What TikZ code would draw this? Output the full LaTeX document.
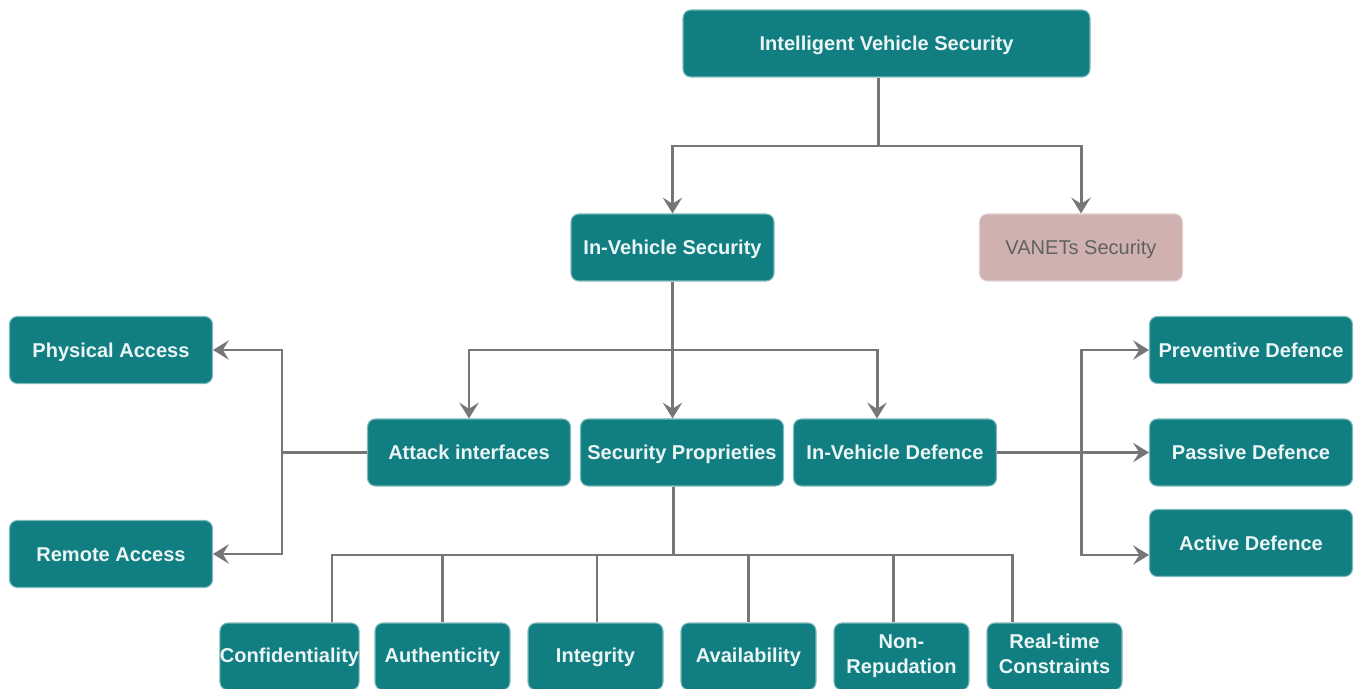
\documentclass[tikz,border=0pt]{standalone}
\usepackage{fontspec}
\setmainfont{Liberation Sans}
\usepackage{tikz}
\usetikzlibrary{arrows.meta}
\definecolor{tealbox}{HTML}{117E82}
\definecolor{tealedge}{HTML}{7DBABC}
\definecolor{pinkbox}{HTML}{CFB1B0}
\definecolor{pinkedge}{HTML}{E4D0CF}
\definecolor{linegray}{HTML}{767676}
\tikzstyle{arrow} = [line width=1.7pt, linegray, -{Stealth[length=9pt, width=11pt, inset=3.5pt]}]

\begin{document}
\begin{tikzpicture}[
    box/.style={rectangle, rounded corners=4.5pt, draw=tealedge, line width=0.6pt, fill=tealbox,
        text=white!92!tealbox, font=\fontsize{11.4}{14.2}\selectfont\bfseries,
        minimum width=4.06cm, minimum height=1.34cm, inner sep=0pt, align=center,
        text height=0.8em, text depth=0pt},
    widebox/.style={box, minimum width=8.14cm},
    smallbox/.style={box, minimum width=2.7cm, text depth=0.1em},
    greybox/.style={box, draw=pinkedge, fill=pinkbox, text=black!62,
        font=\fontsize{11.4}{14.2}\selectfont},
    line/.style={line width=1.7pt, linegray},
]
\useasboundingbox (0,0) rectangle (27.24,13.76);

% Top levels
\node[widebox] (ivs) at (17.73, 12.89) {Intelligent Vehicle Security};
\node[box] (invs) at (13.45, 8.81) {In-Vehicle Security};
\node[greybox] (vanet) at (21.62, 8.81) {VANETs Security};

% Middle row
\node[box] (attack) at (9.38, 4.71) {Attack interfaces};
\node[box] (secprop) at (13.64, 4.71) {Security Proprieties};
\node[box] (ivdef) at (17.90, 4.71) {In-Vehicle Defence};

% Access types (left)
\node[box] (phys) at (2.22, 6.76) {Physical Access};
\node[box] (remote) at (2.22, 2.68) {Remote Access};

% Defence types (right)
\node[box] (prev) at (25.02, 6.76) {Preventive Defence};
\node[box] (pass) at (25.02, 4.71) {Passive Defence};
\node[box] (act) at (25.02, 2.90) {Active Defence};

% Security properties (bottom)
\foreach \i/\txt/\texth in {1/Confidentiality/0.8em, 2/Authenticity/0.8em, 3/Integrity/0.8em,
    4/Availability/0.8em, 5/Non-\\Repudation/2.05em, 6/Real-time\\Constraints/2.05em} {
    \node[smallbox, text height=\texth] (p\i) at (5.79+3.06*\i-3.06, 0.63) {\txt};
}

% Top split
\coordinate (j1) at (17.56, 10.84);
\draw[line] (j1 |- ivs.south) -- (j1);
\draw[arrow] (j1) -| (invs.north);
\draw[arrow] (j1) -| (vanet.north);

% In-vehicle split
\coordinate (j2) at (13.45, 6.76);
\draw[arrow] (invs.south) -- (invs.south |- secprop.north);
\draw[arrow] (j2) -| (attack.north);
\draw[arrow] (j2) -| ([xshift=-0.36cm]ivdef.north);

% Attack interfaces -> access
\coordinate (j3) at (5.64, 4.71);
\draw[line] (attack.west) -- (j3);
\draw[arrow] (j3) |- (phys.east);
\draw[arrow] (j3) |- (remote.east);

% Defence -> defence types
\coordinate (j4) at (21.62, 4.71);
\draw[arrow] (ivdef.east) -- (pass.west);
\draw[arrow] (j4) |- (prev.west);
\draw[arrow] (j4) |- ([yshift=-0.24cm]act.west);

% Security properties bus
\coordinate (j5) at (13.46, 2.66);
\draw[line] (j5 |- secprop.south) -- (j5);
\foreach \i/\dx in {1/0.85, 2/0, 3/0.03, 4/0, 5/-0.17, 6/-0.85} {
    \draw[line] (j5) -| ([xshift=\dx cm]p\i.north);
}

\end{tikzpicture}
\end{document}
